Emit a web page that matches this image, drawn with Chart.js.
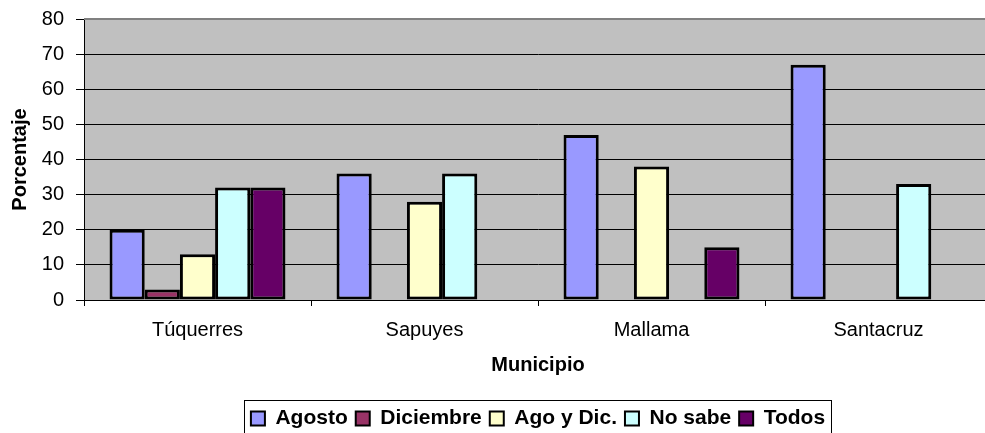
<!DOCTYPE html>
<html>
<head>
<meta charset="utf-8">
<script src="https://cdn.jsdelivr.net/npm/chart.js@4/dist/chart.umd.min.js"></script>
<style>
  html, body { margin: 0; padding: 0; background: #fff; overflow: hidden; }
  #wrap { width: 985px; height: 433px; overflow: hidden; position: relative; }
  canvas { display: block; }
</style>
</head>
<body>
<div id="wrap"><canvas id="c" width="1076" height="439"></canvas></div>
<script>
// ---- data ----
const categories = ['Túquerres', 'Sapuyes', 'Mallama', 'Santacruz'];
const seriesNames = ['Agosto', 'Diciembre', 'Ago y Dic.', 'No sabe', 'Todos'];
const agosto    = [20, 36, 47, 67];
const diciembre = [3, null, null, null];
const agoYDic   = [13, 28, 38, null];
const noSabe    = [32, 36, null, 33];
const todos     = [32, null, 15, null];
const yMin = 0, yMax = 80, yStep = 10;
const xTitle = 'Municipio';
const yTitle = 'Porcentaje';

const seriesValues = [agosto, diciembre, agoYDic, noSabe, todos];
const seriesColors = ['#9999FF', '#993366', '#FFFFCC', '#CCFFFF', '#660066'];

const FONT = '"Liberation Sans", Arial, sans-serif';
const PLOT_TOP = 19, PLOT_BOTTOM = 300, PLOT_LEFT = 84, PLOT_RIGHT = 992;

const bgPlugin = {
  id: 'bg',
  afterLayout(chart) {
    // centre the legend under the plot area (as in the original chart)
    const lg = chart.legend;
    if (lg) { lg.left = 0; lg.right = 1076; }
  },
  beforeDraw(chart) {
    const {ctx, chartArea: a} = chart;
    ctx.save();
    ctx.fillStyle = '#ffffff';
    ctx.fillRect(0, 0, chart.width, chart.height);
    ctx.fillStyle = '#C0C0C0';
    ctx.fillRect(a.left, a.top, a.right - a.left, a.bottom - a.top);
    ctx.restore();
  },
  afterDraw(chart) {
    const {ctx, chartArea: a} = chart;
    ctx.save();
    ctx.strokeStyle = '#808080';
    ctx.lineWidth = 2;
    ctx.beginPath();
    ctx.moveTo(a.left, a.top);
    ctx.lineTo(a.right, a.top);
    ctx.lineTo(a.right, a.bottom);
    ctx.stroke();
    // legend frame
    const lg = chart.legend;
    if (lg && lg.legendHitBoxes && lg.legendHitBoxes.length) {
      const hb = lg.legendHitBoxes;
      const l = hb[0].left - 7;
      const r = hb[hb.length - 1].left + hb[hb.length - 1].width + 6;
      const t = hb[0].top - 8;
      const b = t + 40;
      ctx.strokeStyle = '#000000';
      ctx.lineWidth = 1;
      ctx.strokeRect(Math.round(l) + 0.5, Math.round(t) + 0.5, Math.round(r - l), Math.round(b - t));
    }
    ctx.restore();
  }
};

const chart = new Chart(document.getElementById('c'), {
  type: 'bar',
  data: {
    labels: categories,
    datasets: seriesNames.map((name, i) => ({
      label: name,
      data: seriesValues[i],
      backgroundColor: seriesColors[i],
      borderColor: '#000000',
      borderWidth: 3,
      borderSkipped: false,
      categoryPercentage: 0.775,
      barPercentage: 1.0
    }))
  },
  options: {
    responsive: false,
    animation: false,
    devicePixelRatio: 1,
    layout: { padding: { left: 0, right: 1076 - PLOT_RIGHT, top: PLOT_TOP, bottom: 0 } },
    plugins: {
      tooltip: { enabled: false },
      legend: {
        display: true,
        position: 'bottom',
        labels: {
          color: '#000',
          font: { family: FONT, size: 21, weight: 'bold' },
          boxWidth: 14,
          boxHeight: 14,
          padding: 8,
          generateLabels(chart) {
            const items = Chart.defaults.plugins.legend.labels.generateLabels(chart);
            items.forEach(it => { it.lineWidth = 2; it.strokeStyle = '#000'; });
            return items;
          }
        }
      }
    },
    scales: {
      x: {
        offset: true,
        grid: {
          display: true,
          offset: true,
          drawOnChartArea: false,
          drawTicks: true,
          tickLength: 6,
          color: '#000',
          tickColor: '#000'
        },
        border: { display: true, color: '#000', width: 1 },
        ticks: {
          color: '#000',
          font: { family: FONT, size: 20 },
          padding: 12,
          maxRotation: 0
        },
        title: {
          display: true,
          text: xTitle,
          color: '#000',
          font: { family: FONT, size: 20, weight: 'bold' },
          padding: { top: 0, bottom: 23 }
        },
        afterFit(scale) {
          const lg = scale.chart.legend;
          const legendTop = (lg && lg.top > 300) ? lg.top : 400;
          scale.height = legendTop - PLOT_BOTTOM;
          scale.paddingLeft = 0; scale.paddingRight = 0;
        }
      },
      y: {
        min: yMin,
        max: yMax,
        grid: {
          color: ctx => (ctx.tick && ctx.tick.value === yMax) ? '#808080' : '#000000',
          lineWidth: 1,
          drawTicks: true,
          tickLength: 8,
          tickColor: '#000'
        },
        border: { display: true, color: '#000', width: 1 },
        ticks: {
          stepSize: yStep,
          color: '#000',
          font: { family: FONT, size: 20 },
          padding: 12
        },
        title: {
          display: true,
          text: yTitle,
          color: '#000',
          font: { family: FONT, size: 20, weight: 'bold' },
          padding: { top: 8, bottom: 0 }
        },
        afterFit(scale) {
          scale.width = PLOT_LEFT;
          scale.paddingTop = 0; scale.paddingBottom = 0;
        }
      }
    }
  },
  plugins: [bgPlugin]
});
chart.update();
</script>
</body>
</html>
